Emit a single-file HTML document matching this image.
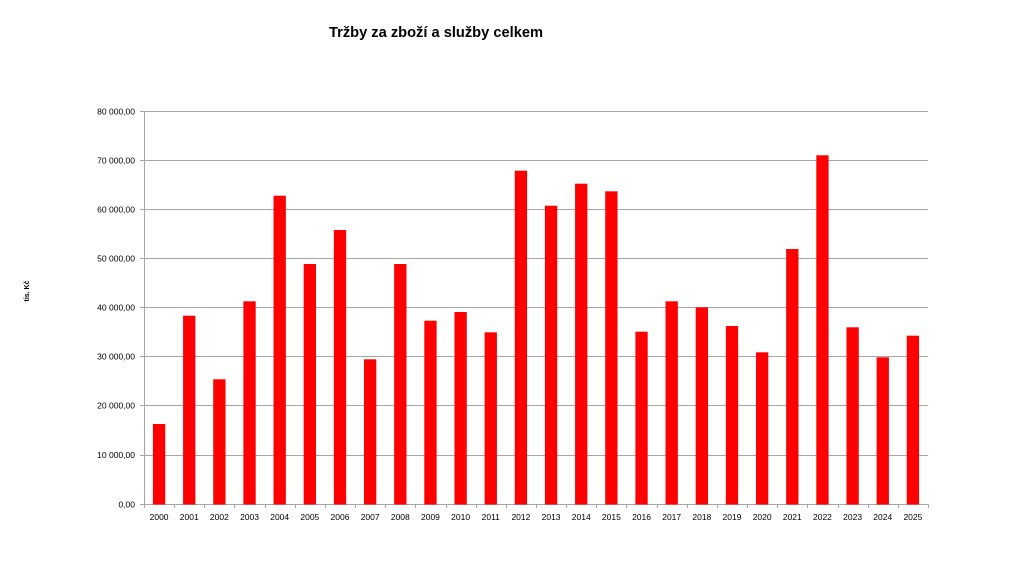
<!DOCTYPE html>
<html>
<head>
<meta charset="utf-8">
<style>
html,body{margin:0;padding:0;background:#fff;}
svg{display:block;}
text{font-family:"Liberation Sans",sans-serif;fill:#000;}
</style>
</head>
<body>
<svg width="1024" height="570" viewBox="0 0 1024 570" xmlns="http://www.w3.org/2000/svg">
<rect width="1024" height="570" fill="#fff"/>
<text x="436" y="37" text-anchor="middle" font-size="15" font-weight="bold" textLength="214" lengthAdjust="spacingAndGlyphs">Tržby za zboží a služby celkem</text>
<text transform="translate(29,291) rotate(-90)" text-anchor="middle" font-size="7" font-weight="bold">tis. Kč</text>
<g stroke="#a6a6a6" stroke-width="1">
<line x1="140" y1="111.5" x2="928" y2="111.5"/>
<line x1="140" y1="160.5" x2="928" y2="160.5"/>
<line x1="140" y1="209.5" x2="928" y2="209.5"/>
<line x1="140" y1="258.5" x2="928" y2="258.5"/>
<line x1="140" y1="307.5" x2="928" y2="307.5"/>
<line x1="140" y1="356.5" x2="928" y2="356.5"/>
<line x1="140" y1="405.5" x2="928" y2="405.5"/>
<line x1="140" y1="455.5" x2="928" y2="455.5"/>
<line x1="140" y1="504.5" x2="928" y2="504.5"/>
<line x1="144.5" y1="111" x2="144.5" y2="504"/>
</g>
<g stroke="#a6a6a6" stroke-width="1" id="xt"></g>
<g font-size="8.5" text-anchor="end">
<text x="135" y="114.5">80 000,00</text>
<text x="135" y="163.5">70 000,00</text>
<text x="135" y="212.5">60 000,00</text>
<text x="135" y="261.5">50 000,00</text>
<text x="135" y="310.5">40 000,00</text>
<text x="135" y="359.5">30 000,00</text>
<text x="135" y="408.5">20 000,00</text>
<text x="135" y="458">10 000,00</text>
<text x="135" y="507.5">0,00</text>
</g>
<g id="bars" fill="#ff0000"></g>
<g id="xl" font-size="8.5" text-anchor="middle"></g>
<script>
(function(){
var tops=[424,315.7,379.3,301.3,195.7,264,230,359.3,264,320.7,312,332.3,170.7,205.7,183.7,191.3,331.7,301.3,307.3,326,352.3,249,155.3,327.3,357.3,335.7];
var ns="http://www.w3.org/2000/svg";
var x0=144,w=784/26,bw=12.3,base=504.5;
var bars=document.getElementById("bars"),xl=document.getElementById("xl"),xt=document.getElementById("xt");
for(var i=0;i<26;i++){
 var c=x0+w*(i+0.5);
 var r=document.createElementNS(ns,"rect");
 r.setAttribute("x",(c-bw/2).toFixed(2));r.setAttribute("y",tops[i]);
 r.setAttribute("width",bw);r.setAttribute("height",(base-tops[i]).toFixed(2));
 bars.appendChild(r);
 var t=document.createElementNS(ns,"text");
 t.setAttribute("x",c.toFixed(2));t.setAttribute("y","520");
 t.textContent=String(2000+i);xl.appendChild(t);
}
for(var j=0;j<=26;j++){
 var xx=Math.round(x0+w*j)+0.5;
 var l=document.createElementNS(ns,"line");
 l.setAttribute("x1",xx);l.setAttribute("x2",xx);l.setAttribute("y1","504");l.setAttribute("y2","508");
 xt.appendChild(l);
}
})();
</script>
</svg>
</body>
</html>
